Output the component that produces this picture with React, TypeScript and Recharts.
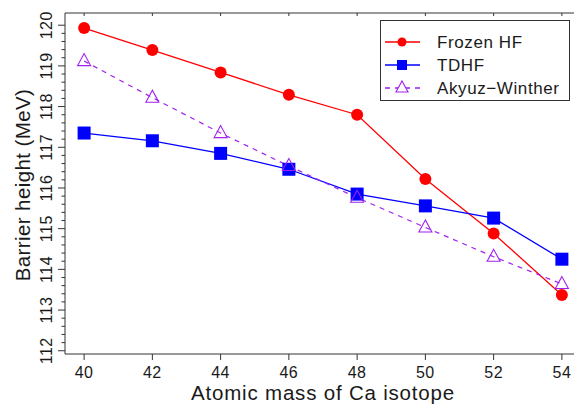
import React from 'react';
import { LineChart, Line, XAxis, YAxis } from 'recharts';

const isotopes = [40, 42, 44, 46, 48, 50, 52, 54];
const frozenHF = [119.93, 119.39, 118.84, 118.29, 117.8, 116.22, 114.88, 113.37];
const tdhf = [117.35, 117.16, 116.85, 116.46, 115.85, 115.56, 115.26, 114.25];
const akyuz = [119.12, 118.22, 117.35, 116.54, 115.76, 115.03, 114.31, 113.64];
const xTicks = [40, 42, 44, 46, 48, 50, 52, 54];
const yTicks: number[] = [];
for (let i = 0; i <= 40; i++) yTicks.push(Math.round((112 + i * 0.2) * 10) / 10);

const data = isotopes.map((a, i) => ({ a, frozen: frozenHF[i], tdhf: tdhf[i], akyuz: akyuz[i] }));

const FONT = '"Liberation Sans", Arial, Helvetica, sans-serif';
const AXIS = '#333';
const TEXT = '#1a1a1a';
const RED = '#ff0000';
const BLUE = '#0000ff';
const PURPLE = '#a020f0';

const YTick = (props: any) => {
  const { x, y, payload } = props;
  const v = payload.value;
  const major = Math.abs(v - Math.round(v)) < 1e-6;
  return (
    <g>
      <line x1={x} x2={x - (major ? 7 : 3.5)} y1={y} y2={y} stroke={AXIS} strokeWidth={1} />
      {major && (
        <text
          x={x - 18}
          y={y}
          transform={`rotate(-90 ${x - 18} ${y})`}
          textAnchor="middle"
          dominantBaseline="central"
          fontSize={16}
          letterSpacing={0.5}
          fontFamily={FONT}
          fill={TEXT}
        >
          {Math.round(v)}
        </text>
      )}
    </g>
  );
};

const XTick = (props: any) => {
  const { x, y, payload } = props;
  return (
    <g>
      <line x1={x} x2={x} y1={y} y2={y + 6} stroke={AXIS} strokeWidth={1} />
      <text x={x} y={y + 18} textAnchor="middle" dominantBaseline="central" fontSize={16} letterSpacing={0.5} fontFamily={FONT} fill={TEXT}>
        {payload.value}
      </text>
    </g>
  );
};

const TopTick = (props: any) => {
  const { x, y } = props;
  return <line x1={x} x2={x} y1={y} y2={y + 3} stroke={AXIS} strokeWidth={1} />;
};

const Circle = (props: any) => {
  const { cx, cy } = props;
  if (cx == null || cy == null) return <g />;
  return <circle cx={cx} cy={cy} r={6} fill={RED} stroke="none" />;
};
const Square = (props: any) => {
  const { cx, cy } = props;
  if (cx == null || cy == null) return <g />;
  return <rect x={cx - 6.5} y={cy - 6.5} width={13} height={13} fill={BLUE} stroke="none" />;
};
const Tri = (props: any) => {
  const { cx, cy } = props;
  if (cx == null || cy == null) return <g />;
  const h = 12;
  const w = 13;
  return (
    <polygon
      points={`${cx},${cy - h * 0.62} ${cx - w / 2},${cy + h * 0.38} ${cx + w / 2},${cy + h * 0.38}`}
      fill="none"
      stroke={PURPLE}
      strokeWidth={1.1}
    />
  );
};

const legendItems = [
  { name: 'Frozen HF', color: RED, dash: undefined as string | undefined, marker: 'circle' },
  { name: 'TDHF', color: BLUE, dash: undefined as string | undefined, marker: 'square' },
  { name: 'Akyuz\u2212Winther', color: PURPLE, dash: '5 5', marker: 'tri' },
];

const LegendBox = () => (
  <svg width={190} height={81} style={{ display: 'block' }}>
    <rect x={0.5} y={0.5} width={189} height={80} fill="#fff" stroke={AXIS} strokeWidth={1} />
    {legendItems.map((it, i) => {
      const cy = 22 + i * 23;
      return (
        <g key={it.name}>
          <line x1={5} x2={40} y1={cy} y2={cy} stroke={it.color} strokeWidth={1.3} strokeDasharray={it.dash} />
          {it.marker === 'circle' && <circle cx={22} cy={cy} r={4.5} fill={it.color} />}
          {it.marker === 'square' && <rect x={17} y={cy - 5} width={10} height={10} fill={it.color} />}
          {it.marker === 'tri' && (
            <polygon points={`22,${cy - 7} 16,${cy + 4} 28,${cy + 4}`} fill="#fff" stroke={it.color} strokeWidth={1.1} />
          )}
          <text x={57} y={cy} dominantBaseline="central" fontSize={17} letterSpacing={0.6} fontFamily={FONT} fill={TEXT}>
            {it.name}
          </text>
        </g>
      );
    })}
  </svg>
);

export default function App() {
  return (
    <div style={{ position: 'absolute', left: 0, top: 0, width: 574, height: 405, overflow: 'hidden', background: '#fff' }}>
      <LineChart width={600} height={405} data={data} margin={{ top: 0, right: 19, bottom: 0, left: 0 }}>
        <XAxis
          xAxisId="bottom"
          dataKey="a"
          type="number"
          domain={[39.44, 54.56]}
          ticks={xTicks}
          allowDataOverflow
          height={51}
          stroke={AXIS}
          tickLine={false}
          tickSize={0}
          tickMargin={0}
          tick={<XTick />}
        />
        <XAxis
          xAxisId="top"
          orientation="top"
          dataKey="a"
          type="number"
          domain={[39.44, 54.56]}
          ticks={xTicks}
          allowDataOverflow
          height={13}
          stroke={AXIS}
          tickLine={false}
          tickSize={0}
          tickMargin={0}
          tick={<TopTick />}
        />
        <YAxis
          type="number"
          domain={[111.92, 120.3]}
          ticks={yTicks}
          interval={0}
          allowDataOverflow
          width={65}
          stroke={AXIS}
          tickLine={false}
          tickSize={0}
          tickMargin={0}
          tick={<YTick />}
        />
        <Line xAxisId="bottom" dataKey="frozen" stroke={RED} strokeWidth={1.3} dot={<Circle />} activeDot={false} isAnimationActive={false} />
        <Line xAxisId="bottom" dataKey="tdhf" stroke={BLUE} strokeWidth={1.3} dot={<Square />} activeDot={false} isAnimationActive={false} />
        <Line
          xAxisId="bottom"
          dataKey="akyuz"
          stroke={PURPLE}
          strokeWidth={1.2}
          strokeDasharray="5 5"
          dot={<Tri />}
          activeDot={false}
          isAnimationActive={false}
        />
      </LineChart>
      <svg width={574} height={405} style={{ position: 'absolute', left: 0, top: 0, pointerEvents: 'none' }}>
        <text x={323} y={392} textAnchor="middle" dominantBaseline="central" fontSize={20.5} letterSpacing={0.8} fontFamily={FONT} fill={TEXT}>
          Atomic mass of Ca isotope
        </text>
        <text
          x={22}
          y={185}
          transform="rotate(-90 22 185)"
          textAnchor="middle"
          dominantBaseline="central"
          fontSize={20.5}
          letterSpacing={0.4}
          fontFamily={FONT}
          fill={TEXT}
        >
          Barrier height (MeV)
        </text>
      </svg>
      <div style={{ position: 'absolute', left: 380, top: 20 }}>
        <LegendBox />
      </div>
    </div>
  );
}
